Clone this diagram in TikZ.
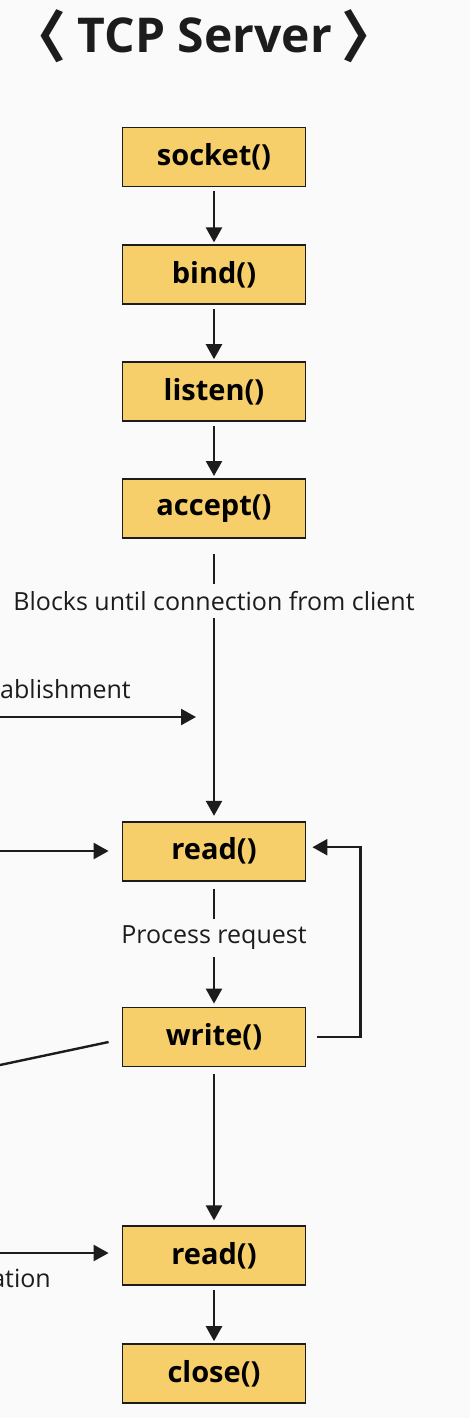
\documentclass[tikz,border=0pt]{standalone}
\usepackage{fontspec}
\setmainfont{Open Sans}
\newfontfamily\cjk{Noto Sans CJK KR}
\usepackage{xcolor}
\usepackage{tikz}
\usetikzlibrary{arrows.meta,positioning,calc}
\definecolor{bg}{HTML}{FAFAFA}
\definecolor{edge}{HTML}{1C1C1C}
\definecolor{boxfill}{HTML}{F6CE6A}

\begin{document}
\begin{tikzpicture}[
    func/.style={rectangle, draw=edge, fill=boxfill, line width=1.8pt,
                 minimum width=183pt, minimum height=59pt,
                 font=\fontsize{29}{31}\selectfont\bfseries},
    arrow/.style={-{Triangle[length=15pt,width=16pt]}, line width=2.4pt, color=edge},
    plain/.style={line width=2.4pt, color=edge},
    note/.style={font=\fontsize{25}{27}\selectfont, text=edge, fill=bg,
                 inner xsep=2pt, inner ysep=7pt},
    cut/.style={font=\fontsize{25}{27}\selectfont, text=edge, inner sep=0pt},
    brack/.style={font=\cjk\fontsize{56}{58}\selectfont\bfseries, text=edge, inner sep=0pt},
]
\fill[bg] (0,0) rectangle (470pt,-1418pt);
\useasboundingbox (0,0) rectangle (470pt,-1418pt);

\node[font=\fontsize{48}{50}\selectfont\bfseries, text=edge, anchor=base, inner sep=0pt] (title) at (205pt,-53pt) {TCP Server};
\node[brack,left=11pt of title] (lbr) {〈};
\node[brack,right=9pt of title] (rbr) {〉};

\node[func] (socket) at (214pt,-157pt) {socket()};
\node[func,below=57pt of socket] (bind) {bind()};
\node[func,below=56pt of bind] (listen) {listen()};
\node[func,below=56pt of listen] (accept) {accept()};
\node[func,below=282pt of accept] (read) {read()};
\node[func,below=125pt of read] (write) {write()};
\node[func,below=158pt of write] (readend) {read()};
\node[func,below=57pt of readend] (close) {close()};

\draw[arrow,shorten <=4pt,shorten >=2pt] (socket) -- (bind);
\draw[arrow,shorten <=4pt,shorten >=2pt] (bind) -- (listen);
\draw[arrow,shorten <=4pt,shorten >=2pt] (listen) -- (accept);
\draw[arrow,shorten <=15pt,shorten >=5pt] (accept) -- node[note,pos=0.22] {Blocks until connection from client} (read);
\draw[arrow,shorten <=7pt,shorten >=3pt] (read) -- node[note,pos=0.45] {Process request} (write);
\draw[arrow,shorten <=7pt,shorten >=5pt] (write) -- (readend);
\draw[arrow,shorten <=4pt,shorten >=2pt] (readend) -- (close);

\coordinate (estL) at (0,-717pt);
\coordinate (estR) at (196pt,-717pt);
\draw[arrow] (estL) -- (estR);
\node[cut,anchor=east] (est) at (131pt,-689pt) {ablishment};

\coordinate (reqL) at (0,-851pt);
\draw[arrow,shorten >=13pt] (reqL) -- (read.west |- reqL);

\coordinate (resL) at (0,-1065pt);
\draw[plain] ([shift={(-13pt,-5pt)}]write.west) -- (resL);

\draw[arrow] ([shift={(11pt,0pt)}]write.east) -- ++(43pt,0) |- ([shift={(6pt,4pt)}]read.east);

\coordinate (finL) at (0,-1253pt);
\draw[arrow,shorten >=13pt] (finL) -- (readend.west |- finL);
\node[cut,anchor=east] (fin) at (51pt,-1278pt) {ation};

\end{tikzpicture}
\end{document}
